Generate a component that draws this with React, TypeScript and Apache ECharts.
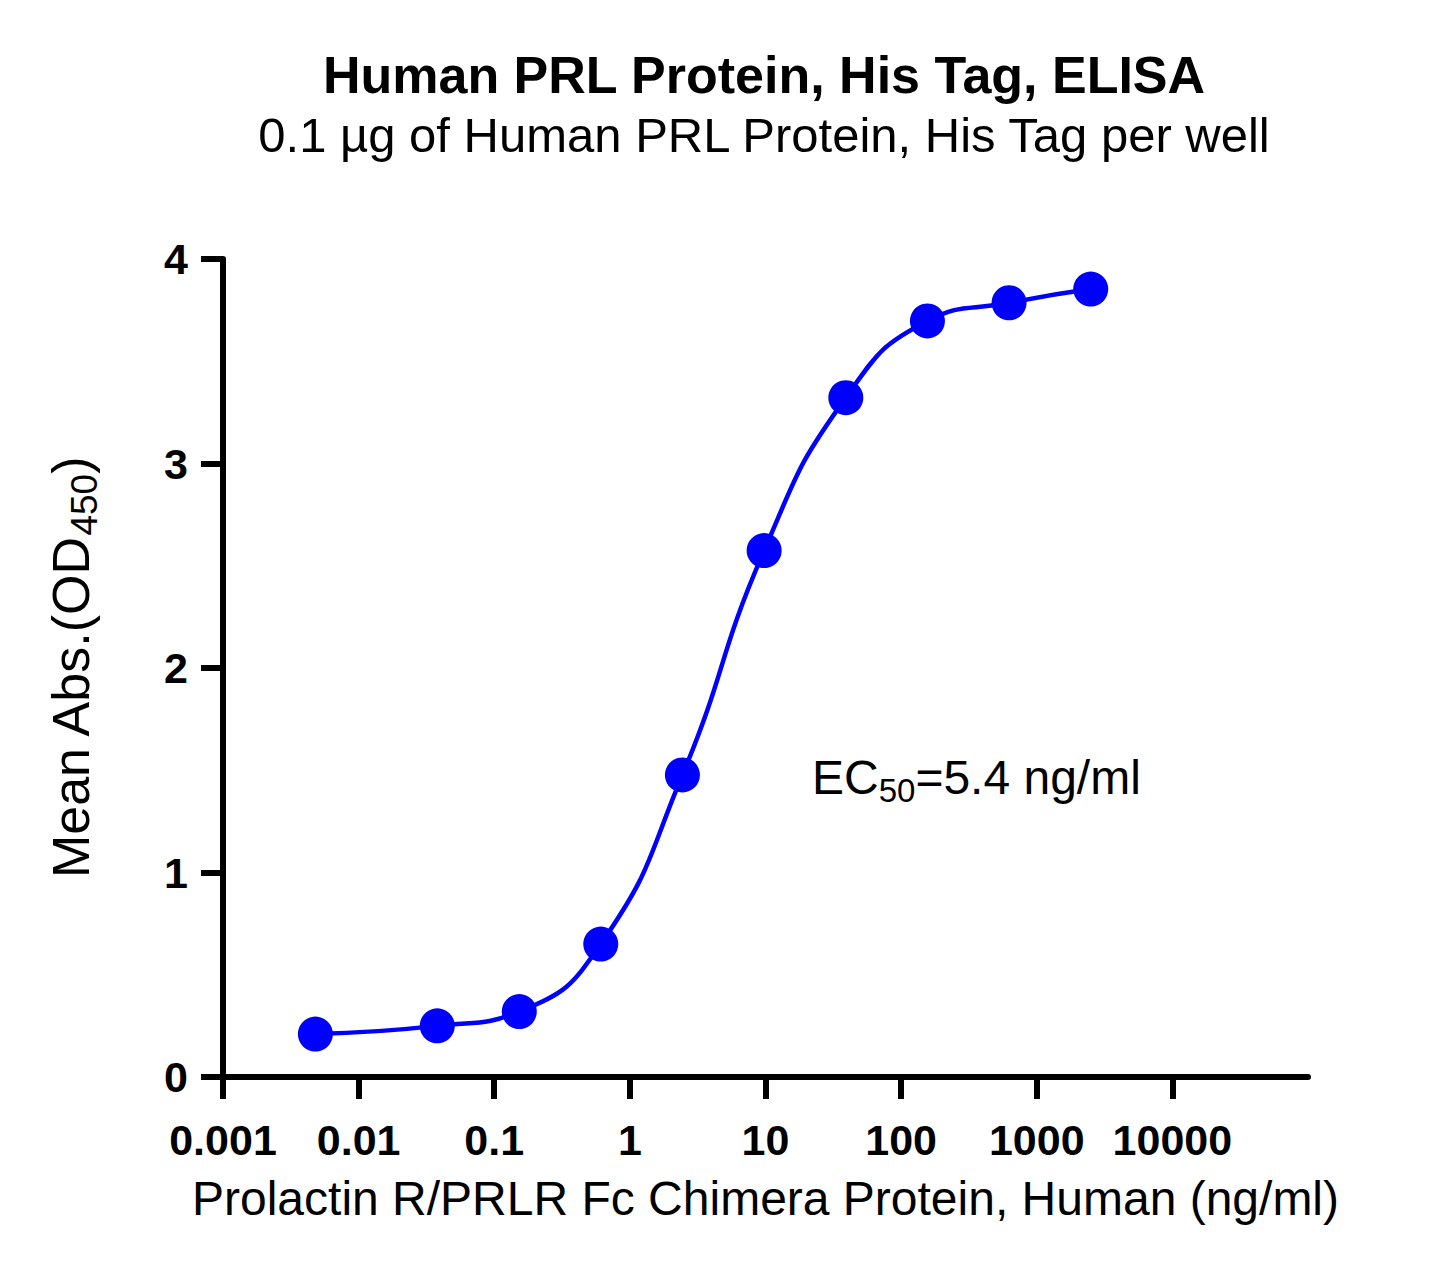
import { useEffect, useRef } from 'react'
import * as echarts from 'echarts'

// concentrations (ng/ml) and mean OD450
const concentrations = [0.0048, 0.038, 0.153, 0.61, 2.44, 9.77, 39.1, 156.3, 625, 2500]
const meanAbs = [0.21, 0.25, 0.32, 0.65, 1.477, 2.574, 3.322, 3.697, 3.786, 3.853]

const xTickValues = [0.001, 0.01, 0.1, 1, 10, 100, 1000, 10000]
const xTickLabels = ['0.001', '0.01', '0.1', '1', '10', '100', '1000', '10000']

const titleText = 'Human PRL Protein, His Tag, ELISA'
const subtitleText = '0.1 µg of Human PRL Protein, His Tag per well'
const xAxisName = 'Prolactin R/PRLR Fc Chimera Protein, Human (ng/ml)'

const FONT = 'Arial, "Liberation Sans", Helvetica, sans-serif'
const BLUE = '#0000ff'

function App() {
  const chartRef = useRef<HTMLDivElement>(null)

  useEffect(() => {
    if (!chartRef.current) return
    const chart = echarts.init(chartRef.current, undefined, { renderer: 'svg' })

    const points = concentrations.map((c, i) => [c, meanAbs[i]])

    const option: echarts.EChartsOption = {
      animation: false,
      backgroundColor: '#ffffff',
      textStyle: { fontFamily: FONT },
      title: [
        {
          text: titleText,
          left: 759,
          textAlign: 'center',
          top: 44,
          textStyle: { fontFamily: FONT, fontSize: 52, fontWeight: 'bold', color: '#000' },
        },
        {
          text: subtitleText,
          left: 759,
          textAlign: 'center',
          top: 105,
          textStyle: { fontFamily: FONT, fontSize: 49, fontWeight: 'normal', color: '#000' },
        },
      ],
      grid: {
        left: 223,
        right: 137,
        top: 259,
        bottom: 200,
        containLabel: false,
      },
      xAxis: {
        type: 'log',
        logBase: 10,
        min: 0.001,
        max: 100000,
        name: xAxisName,
        nameLocation: 'middle',
        nameGap: 97,
        nameTextStyle: { fontFamily: FONT, fontSize: 48, color: '#000' },
        axisLine: { show: true, lineStyle: { color: '#000', width: 6 } },
        axisTick: {
          show: true,
          inside: false,
          length: 22,
          lineStyle: { color: '#000', width: 6 },
          customValues: xTickValues,
        },
        axisLabel: {
          margin: 41,
          fontFamily: FONT,
          fontSize: 43,
          fontWeight: 'bold',
          color: '#000',
          customValues: xTickValues,
          formatter: (v: number) => {
            const idx = Math.round(Math.log10(v)) + 3
            return xTickLabels[idx] ?? ''
          },
        },
        minorTick: { show: false },
        splitLine: { show: false },
      },
      yAxis: {
        type: 'value',
        min: 0,
        max: 4,
        interval: 1,
        name: '{m|Mean Abs.(OD}{s|450}{m|)}',
        nameLocation: 'middle',
        nameGap: 120,
        nameTextStyle: {
          fontFamily: FONT,
          color: '#000',
          rich: {
            m: { fontFamily: FONT, fontSize: 52, lineHeight: 64, color: '#000' },
            s: { fontFamily: FONT, fontSize: 37, lineHeight: 32, verticalAlign: 'bottom', color: '#000' },
          },
        },
        axisLine: { show: true, lineStyle: { color: '#000', width: 6 } },
        axisTick: { show: true, inside: false, length: 22, lineStyle: { color: '#000', width: 6 } },
        axisLabel: {
          margin: 35,
          fontFamily: FONT,
          fontSize: 43,
          fontWeight: 'bold',
          color: '#000',
        },
        splitLine: { show: false },
      },
      graphic: [
        {
          type: 'text',
          left: 812,
          top: 753,
          style: {
            text: '{m|EC}{s|50}{m|=5.4 ng/ml}',
            fill: '#000',
            rich: {
              m: { fontFamily: FONT, fontSize: 48, lineHeight: 60, fill: '#000' },
              s: { fontFamily: FONT, fontSize: 33, lineHeight: 24, verticalAlign: 'bottom', fill: '#000' },
            },
          },
        },
      ],
      series: [
        {
          type: 'line',
          data: points,
          smooth: true,
          symbol: 'circle',
          symbolSize: 35,
          showAllSymbol: true,
          lineStyle: { color: BLUE, width: 4.5 },
          itemStyle: { color: BLUE },
          emphasis: { disabled: true },
        },
      ],
    }

    chart.setOption(option)

    return () => {
      chart.dispose()
    }
  }, [])

  return (
    <div style={{ position: 'absolute', left: 0, top: 0, width: 1445, height: 1277, background: '#fff' }}>
      <div ref={chartRef} style={{ width: 1445, height: 1277 }} />
    </div>
  )
}

export default App
